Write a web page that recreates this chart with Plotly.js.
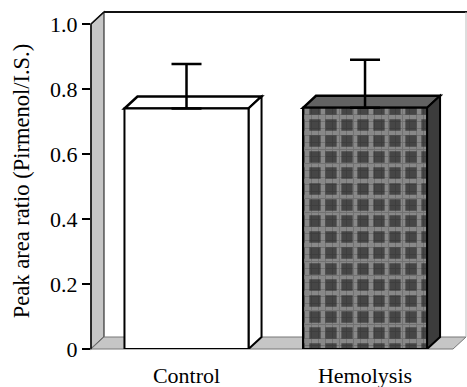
<!DOCTYPE html>
<html>
<head>
<meta charset="utf-8">
<script src="https://cdn.plot.ly/plotly-3.0.1.min.js"></script>
<style>html,body{margin:0;padding:0;background:#fff;}#chart{width:467px;height:387px;}</style>
</head>
<body>
<div id="chart"></div>
<script>
// ---- data ----
var categories = ['Control', 'Hemolysis'];
var means = [0.740, 0.742];
var errors = [0.137, 0.148];
var yTickVals = [0, 0.2, 0.4, 0.6, 0.8, 1.0];
var yTickText = ['0', '0.2', '0.4', '0.6', '0.8', '1.0'];
var yTitle = 'Peak area ratio (Pirmenol/I.S.)';

// ---- layout constants ----
var W = 467, H = 387;
var M = {l: 91, r: 12, t: 13, b: 38};
var plotW = W - M.l - M.r, plotH = H - M.t - M.b;
var xRange = [-0.535, 1.504];
var pxPerX = plotW / (xRange[1] - xRange[0]);
var yTop = 1.0338;
var pxPerY = plotH / yTop;
var DX = 13, DY = 12;           // 3D depth offsets in pixels
var barWidth = 0.695;
var halfPx = barWidth / 2 * pxPerX;
var FONT = '"Liberation Serif", "Times New Roman", serif';

function px(xp) { return ((xp - M.l) / plotW).toFixed(5); }
function py(yp) { return ((H - M.b - yp) / plotH).toFixed(5); }
function P(xp, yp) { return px(xp) + ',' + py(yp); }

var x0 = M.l, yb = H - M.b, y1 = yb - 1.0 * pxPerY;
var wallFill = '#c6c6c6';
var shapes = [
  // left wall
  {type: 'path', xref: 'paper', yref: 'paper', layer: 'below',
   path: 'M' + P(x0, yb) + ' L' + P(x0, y1) + ' L' + P(x0 + DX, y1 - DY) + ' L' + P(x0 + DX, yb - DY) + ' Z',
   fillcolor: wallFill, line: {color: '#333', width: 1.2}},
  // floor
  {type: 'path', xref: 'paper', yref: 'paper', layer: 'below',
   path: 'M' + P(x0, yb) + ' L' + P(x0 + DX, yb - DY) + ' L' + P(W - 1, yb - DY) + ' L' + P(W - 1 - DX, yb) + ' Z',
   fillcolor: wallFill, line: {color: '#777', width: 1}},
  // back wall top edge
  {type: 'line', xref: 'paper', yref: 'paper', layer: 'below',
   x0: px(x0 + DX), y0: py(y1 - DY), x1: px(W), y1: py(y1 - DY),
   line: {color: '#111', width: 2}},
  // back wall right edge
  {type: 'line', xref: 'paper', yref: 'paper', layer: 'below',
   x0: px(W - 1), y0: py(y1 - DY), x1: px(W - 1), y1: py(yb - DY),
   line: {color: '#bbb', width: 1}},
  // front axis edge
  {type: 'path', xref: 'paper', yref: 'paper', layer: 'below',
   path: 'M' + P(x0, yb) + ' L' + P(x0, y1) + ' L' + P(x0 + DX, y1 - DY),
   line: {color: '#111', width: 1.5}}
];

var faceFill = ['#ffffff', '#626262'];
var sideFill = ['#ffffff', '#3c3c3c'];
for (var i = 0; i < categories.length; i++) {
  var h = halfPx;
  // top face
  shapes.push({type: 'path', xref: 'x', yref: 'y', layer: 'below',
    xsizemode: 'pixel', xanchor: i, ysizemode: 'pixel', yanchor: means[i],
    path: 'M ' + (-h) + ' 0 L ' + (-h + DX) + ' ' + DY + ' L ' + (h + DX) + ' ' + DY + ' L ' + h + ' 0 Z',
    fillcolor: faceFill[i], line: {color: '#000', width: 2.5}});
  // side face
  var dyD = DY / pxPerY;
  shapes.push({type: 'path', xref: 'x', yref: 'y', layer: 'below',
    xsizemode: 'pixel', xanchor: i,
    path: 'M ' + h + ' 0 L ' + (h + DX) + ' ' + dyD + ' L ' + (h + DX) + ' ' + (means[i] + dyD) + ' L ' + h + ' ' + means[i] + ' Z',
    fillcolor: sideFill[i], line: {color: '#000', width: 2}});
}

var traces = [
  {type: 'bar', x: [0], y: [means[0]], width: barWidth,
   marker: {color: '#ffffff', line: {color: '#000', width: 2}},
   error_y: {type: 'data', symmetric: false, array: [errors[0]], arrayminus: [0], color: '#000', thickness: 2.5, width: 15},
   hoverinfo: 'none', showlegend: false},
  {type: 'bar', x: [1], y: [means[1]], width: barWidth,
   marker: {color: '#484848', line: {width: 0},
            pattern: {shape: '+', bgcolor: '#464646', fgcolor: '#888888', size: 16, solidity: 0.5}},
   hoverinfo: 'none', showlegend: false},
  {type: 'bar', x: [1], y: [means[1]], width: barWidth,
   marker: {color: 'rgba(0,0,0,0)', line: {color: '#000', width: 2},
            pattern: {shape: '+', fgcolor: 'rgba(30,30,30,0.45)', size: 7, solidity: 0.25, fillmode: 'overlay'}},
   error_y: {type: 'data', symmetric: false, array: [errors[1]], arrayminus: [0], color: '#000', thickness: 2.5, width: 15},
   hoverinfo: 'none', showlegend: false}
];

var layout = {
  width: W, height: H,
  margin: M,
  paper_bgcolor: '#fff', plot_bgcolor: 'rgba(0,0,0,0)',
  barmode: 'overlay',
  showlegend: false,
  font: {family: FONT, color: '#000', size: 22},
  xaxis: {range: xRange, tickmode: 'array', tickvals: [0, 1], ticktext: categories,
          showgrid: false, zeroline: false, showline: false,
          ticks: 'outside', ticklen: 7, tickcolor: 'rgba(0,0,0,0)', fixedrange: true,
          tickfont: {family: FONT, size: 22, color: '#000'}},
  yaxis: {range: [0, yTop], tickmode: 'array', tickvals: yTickVals, ticktext: yTickText,
          showgrid: false, zeroline: false, showline: false,
          ticks: 'outside', ticklen: 8, tickwidth: 1.5, tickcolor: '#000',
          tickfont: {family: FONT, size: 22, color: '#000'},
          title: {text: yTitle, font: {family: FONT, size: 22.5, color: '#000'}, standoff: 14}},
  shapes: shapes
};

Plotly.newPlot('chart', traces, layout, {displayModeBar: false, staticPlot: true});
</script>
</body>
</html>
